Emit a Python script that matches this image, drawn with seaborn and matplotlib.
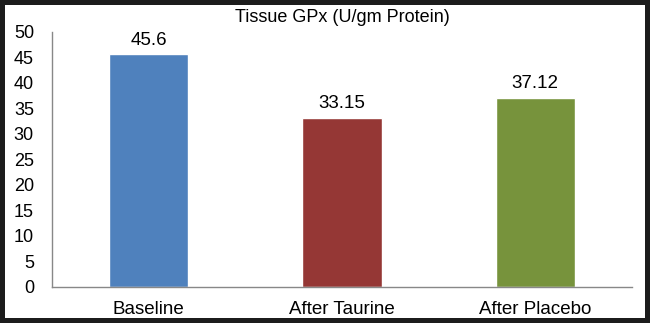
import matplotlib
matplotlib.use("Agg")
import matplotlib.pyplot as plt
import seaborn as sns
import pandas as pd
from matplotlib.patches import Rectangle

categories = ["Baseline", "After Taurine", "After Placebo"]
values = [45.6, 33.15, 37.12]
value_labels = ["45.6", "33.15", "37.12"]
colors = ["#4F81BD", "#953735", "#77933C"]

sns.set_style("white")
plt.rcParams["font.family"] = ["Liberation Sans", "DejaVu Sans"]
plt.rcParams["text.color"] = "black"
plt.rcParams["xtick.color"] = "black"
plt.rcParams["ytick.color"] = "black"

df = pd.DataFrame({"group": categories, "value": values})

fig = plt.figure(figsize=(6.5, 3.23), dpi=100)
ax = fig.add_axes([0.08, 0.1115, 0.892, 0.7895])

sns.barplot(data=df, x="group", y="value", hue="group", palette=colors,
            width=0.41, saturation=1, legend=False, ax=ax)

ax.set_xlim(-0.5, 2.5)
ax.set_ylim(0, 50)
ax.set_yticks(range(0, 51, 5))
ax.set_xticks([-0.5, 0.5, 1.5, 2.5], minor=False)
ax.set_xticklabels([])
ax.set_xticks([0, 1, 2], minor=True)
ax.set_xticklabels(categories, minor=True, fontsize=13.5)
ax.tick_params(axis="x", which="minor", length=0, pad=10)
ax.tick_params(axis="x", which="major", length=4, color="#888888", direction="out")
ax.tick_params(axis="y", length=4, color="#888888", labelcolor="black",
               direction="out", labelsize=13, pad=9)
ax.set_xlabel("")
ax.set_ylabel("")

for s in ["top", "right"]:
    ax.spines[s].set_visible(False)
for s in ["left", "bottom"]:
    ax.spines[s].set_color("#888888")
    ax.spines[s].set_linewidth(1)

# value labels above bars
for i, (v, lab) in enumerate(zip(values, value_labels)):
    ax.annotate(lab, (i, v), xytext=(0, 4), textcoords="offset points",
                ha="center", va="bottom", fontsize=13.5, color="black")

fig.text(0.526, 0.945, "Tissue GPx (U/gm Protein)", ha="center", va="center",
         fontsize=13, color="black")

# dark frame around the whole image
fig.patches.append(Rectangle((0, 0), 1, 1, transform=fig.transFigure, fill=False,
                             lw=7.2, edgecolor="#1c1c1c"))

fig.savefig("out.png", dpi=100)
